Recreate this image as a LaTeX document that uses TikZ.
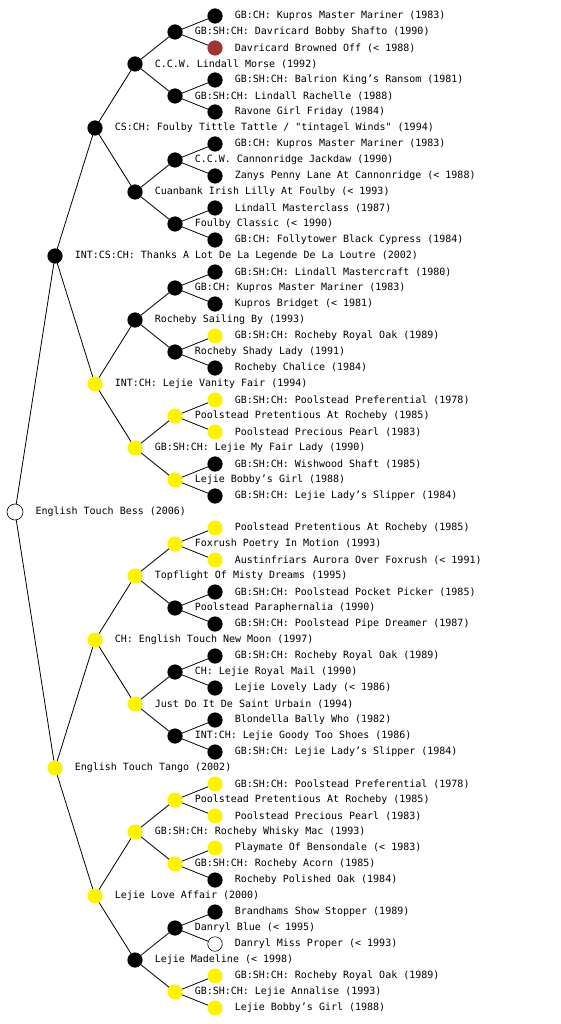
\documentclass[tikz,border=0pt]{standalone}
\usepackage{fontspec}
\usepackage{xcolor}
\usepackage{tikz}
\usetikzlibrary{positioning,backgrounds}
\newfontfamily\pedfont{DejaVu Sans Mono}
\definecolor{brick}{RGB}{160,52,52}

\begin{document}
\begin{tikzpicture}[
            x=1pt, y=-1pt,
            font=\pedfont\fontsize{10}{12}\selectfont,
            label distance=12pt,
            dog/.style={circle, draw, minimum size=14.5pt, inner sep=0pt, line width=0.6pt},
            blk/.style={dog, fill=black},
            ylw/.style={dog, draw=yellow, fill=yellow},
            brk/.style={dog, draw=brick, fill=brick},
            unk/.style={dog, fill=white},
            root/.style={unk, minimum size=16pt, path picture={\fill (path picture bounding box.center) circle (0.8);}},
            every label/.style={inner sep=0pt},
            link/.style={draw, line width=0.8pt}
        ]
        \useasboundingbox (0,0) rectangle (560,1024);

        % Dog
        \node [root, label=0:{English Touch Bess (2006)}] (bess) at (15,512) {};

        % Parents
        \node [blk, label=0:{INT:CS:CH: Thanks A Lot De La Legende De La Loutre (2002)}] (s) at (55,256) {};
        \node [ylw, label=0:{English Touch Tango (2002)}] (d) at (55,768) {};

        % Grandparents
        \node [blk, label=0:{CS:CH: Foulby Tittle Tattle / "tintagel Winds" (1994)}] (ss) at (95,128) {};
        \node [ylw, label=0:{INT:CH: Lejie Vanity Fair (1994)}] (sd) at (95,384) {};
        \node [ylw, label=0:{CH: English Touch New Moon (1997)}] (ds) at (95,640) {};
        \node [ylw, label=0:{Lejie Love Affair (2000)}] (dd) at (95,896) {};

        % Great-grandparents
        \node [blk, label=0:{C.C.W. Lindall Morse (1992)}] (sss) at (135,64) {};
        \node [blk, label=0:{Cuanbank Irish Lilly At Foulby (< 1993)}] (ssd) at (135,192) {};
        \node [blk, label=0:{Rocheby Sailing By (1993)}] (sds) at (135,320) {};
        \node [ylw, label=0:{GB:SH:CH: Lejie My Fair Lady (1990)}] (sdd) at (135,448) {};
        \node [ylw, label=0:{Topflight Of Misty Dreams (1995)}] (dss) at (135,576) {};
        \node [ylw, label=0:{Just Do It De Saint Urbain (1994)}] (dsd) at (135,704) {};
        \node [ylw, label=0:{GB:SH:CH: Rocheby Whisky Mac (1993)}] (dds) at (135,832) {};
        \node [blk, label=0:{Lejie Madeline (< 1998)}] (ddd) at (135,960) {};

        % 4th generation
        \node [blk, label=0:{GB:SH:CH: Davricard Bobby Shafto (1990)}] (ssss) at (175,32) {};
        \node [blk, label=0:{GB:SH:CH: Lindall Rachelle (1988)}] (sssd) at (175,96) {};
        \node [blk, label=0:{C.C.W. Cannonridge Jackdaw (1990)}] (ssds) at (175,160) {};
        \node [blk, label=0:{Foulby Classic (< 1990)}] (ssdd) at (175,224) {};
        \node [blk, label=0:{GB:CH: Kupros Master Mariner (1983)}] (sdss) at (175,288) {};
        \node [blk, label=0:{Rocheby Shady Lady (1991)}] (sdsd) at (175,352) {};
        \node [ylw, label=0:{Poolstead Pretentious At Rocheby (1985)}] (sdds) at (175,416) {};
        \node [ylw, label=0:{Lejie Bobby’s Girl (1988)}] (sddd) at (175,480) {};
        \node [ylw, label=0:{Foxrush Poetry In Motion (1993)}] (dsss) at (175,544) {};
        \node [blk, label=0:{Poolstead Paraphernalia (1990)}] (dssd) at (175,608) {};
        \node [blk, label=0:{CH: Lejie Royal Mail (1990)}] (dsds) at (175,672) {};
        \node [blk, label=0:{INT:CH: Lejie Goody Too Shoes (1986)}] (dsdd) at (175,736) {};
        \node [ylw, label=0:{Poolstead Pretentious At Rocheby (1985)}] (ddss) at (175,800) {};
        \node [ylw, label=0:{GB:SH:CH: Rocheby Acorn (1985)}] (ddsd) at (175,864) {};
        \node [blk, label=0:{Danryl Blue (< 1995)}] (ddds) at (175,928) {};
        \node [ylw, label=0:{GB:SH:CH: Lejie Annalise (1993)}] (dddd) at (175,992) {};

        % 5th generation
        \node [blk, label=0:{GB:CH: Kupros Master Mariner (1983)}] (sssss) at (215,16) {};
        \node [brk, label=0:{Davricard Browned Off (< 1988)}] (ssssd) at (215,48) {};
        \node [blk, label=0:{GB:SH:CH: Balrion King’s Ransom (1981)}] (sssds) at (215,80) {};
        \node [blk, label=0:{Ravone Girl Friday (1984)}] (sssdd) at (215,112) {};
        \node [blk, label=0:{GB:CH: Kupros Master Mariner (1983)}] (ssdss) at (215,144) {};
        \node [blk, label=0:{Zanys Penny Lane At Cannonridge (< 1988)}] (ssdsd) at (215,176) {};
        \node [blk, label=0:{Lindall Masterclass (1987)}] (ssdds) at (215,208) {};
        \node [blk, label=0:{GB:CH: Follytower Black Cypress (1984)}] (ssddd) at (215,240) {};
        \node [blk, label=0:{GB:SH:CH: Lindall Mastercraft (1980)}] (sdsss) at (215,272) {};
        \node [blk, label=0:{Kupros Bridget (< 1981)}] (sdssd) at (215,304) {};
        \node [ylw, label=0:{GB:SH:CH: Rocheby Royal Oak (1989)}] (sdsds) at (215,336) {};
        \node [blk, label=0:{Rocheby Chalice (1984)}] (sdsdd) at (215,368) {};
        \node [ylw, label=0:{GB:SH:CH: Poolstead Preferential (1978)}] (sddss) at (215,400) {};
        \node [ylw, label=0:{Poolstead Precious Pearl (1983)}] (sddsd) at (215,432) {};
        \node [blk, label=0:{GB:SH:CH: Wishwood Shaft (1985)}] (sddds) at (215,464) {};
        \node [blk, label=0:{GB:SH:CH: Lejie Lady’s Slipper (1984)}] (sdddd) at (215,496) {};
        \node [ylw, label=0:{Poolstead Pretentious At Rocheby (1985)}] (dssss) at (215,528) {};
        \node [ylw, label=0:{Austinfriars Aurora Over Foxrush (< 1991)}] (dsssd) at (215,560) {};
        \node [blk, label=0:{GB:SH:CH: Poolstead Pocket Picker (1985)}] (dssds) at (215,592) {};
        \node [blk, label=0:{GB:SH:CH: Poolstead Pipe Dreamer (1987)}] (dssdd) at (215,624) {};
        \node [blk, label=0:{GB:SH:CH: Rocheby Royal Oak (1989)}] (dsdss) at (215,656) {};
        \node [blk, label=0:{Lejie Lovely Lady (< 1986)}] (dsdsd) at (215,688) {};
        \node [blk, label=0:{Blondella Bally Who (1982)}] (dsdds) at (215,720) {};
        \node [blk, label=0:{GB:SH:CH: Lejie Lady’s Slipper (1984)}] (dsddd) at (215,752) {};
        \node [ylw, label=0:{GB:SH:CH: Poolstead Preferential (1978)}] (ddsss) at (215,784) {};
        \node [ylw, label=0:{Poolstead Precious Pearl (1983)}] (ddssd) at (215,816) {};
        \node [ylw, label=0:{Playmate Of Bensondale (< 1983)}] (ddsds) at (215,848) {};
        \node [blk, label=0:{Rocheby Polished Oak (1984)}] (ddsdd) at (215,880) {};
        \node [blk, label=0:{Brandhams Show Stopper (1989)}] (dddss) at (215,912) {};
        \node [unk, label=0:{Danryl Miss Proper (< 1993)}] (dddsd) at (215,944) {};
        \node [ylw, label=0:{GB:SH:CH: Rocheby Royal Oak (1989)}] (dddds) at (215,976) {};
        \node [ylw, label=0:{Lejie Bobby’s Girl (1988)}] (ddddd) at (215,1008) {};

        % Lines
        \begin{scope}[on background layer]
        \path [link] (bess) -- (s) (bess) -- (d);
        \path [link] (s) -- (ss) (s) -- (sd);
        \path [link] (d) -- (ds) (d) -- (dd);
        \path [link] (ss) -- (sss) (ss) -- (ssd);
        \path [link] (sd) -- (sds) (sd) -- (sdd);
        \path [link] (ds) -- (dss) (ds) -- (dsd);
        \path [link] (dd) -- (dds) (dd) -- (ddd);
        \path [link] (sss) -- (ssss) (sss) -- (sssd);
        \path [link] (ssd) -- (ssds) (ssd) -- (ssdd);
        \path [link] (sds) -- (sdss) (sds) -- (sdsd);
        \path [link] (sdd) -- (sdds) (sdd) -- (sddd);
        \path [link] (dss) -- (dsss) (dss) -- (dssd);
        \path [link] (dsd) -- (dsds) (dsd) -- (dsdd);
        \path [link] (dds) -- (ddss) (dds) -- (ddsd);
        \path [link] (ddd) -- (ddds) (ddd) -- (dddd);
        \path [link] (ssss) -- (sssss) (ssss) -- (ssssd);
        \path [link] (sssd) -- (sssds) (sssd) -- (sssdd);
        \path [link] (ssds) -- (ssdss) (ssds) -- (ssdsd);
        \path [link] (ssdd) -- (ssdds) (ssdd) -- (ssddd);
        \path [link] (sdss) -- (sdsss) (sdss) -- (sdssd);
        \path [link] (sdsd) -- (sdsds) (sdsd) -- (sdsdd);
        \path [link] (sdds) -- (sddss) (sdds) -- (sddsd);
        \path [link] (sddd) -- (sddds) (sddd) -- (sdddd);
        \path [link] (dsss) -- (dssss) (dsss) -- (dsssd);
        \path [link] (dssd) -- (dssds) (dssd) -- (dssdd);
        \path [link] (dsds) -- (dsdss) (dsds) -- (dsdsd);
        \path [link] (dsdd) -- (dsdds) (dsdd) -- (dsddd);
        \path [link] (ddss) -- (ddsss) (ddss) -- (ddssd);
        \path [link] (ddsd) -- (ddsds) (ddsd) -- (ddsdd);
        \path [link] (ddds) -- (dddss) (ddds) -- (dddsd);
        \path [link] (dddd) -- (dddds) (dddd) -- (ddddd);
        \end{scope}

    \end{tikzpicture}
\end{document}
